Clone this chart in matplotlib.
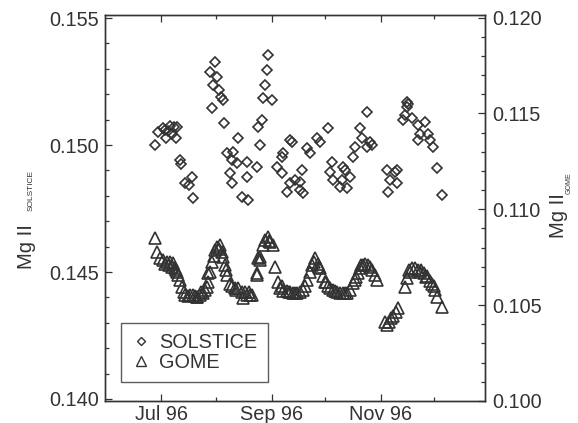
"""
Mg II core-to-wing index, SOLSTICE vs GOME, Jun-Dec 1996.
Diamonds on the left axis, triangles on the right axis.
"""

import matplotlib
matplotlib.use("Agg")
import matplotlib.pyplot as plt
from matplotlib.lines import Line2D

plt.rcParams['font.family'] = ['Liberation Sans', 'DejaVu Sans']

INK = '#333333'

# day of year 1996
solstice_day = [
    179.6, 181.3, 184.1, 188.0, 192.0, 185.8, 191.4, 187.0, 185.0, 189.0, 190.0,
    193.6, 194.2, 196.4, 198.7, 200.4, 200.9,
    213.2, 210.4, 214.4, 212.1, 215.5, 216.5, 217.7, 211.6, 218.5,
    226.1, 220.0, 223.3, 222.8, 225.6, 231.2, 236.8, 221.6, 231.2, 222.8, 228.4, 231.7,
    242.9, 242.4, 241.2, 240.1, 245.2, 239.6, 237.3, 238.4,
    255.2, 256.4, 251.3, 250.8, 248.0, 250.8, 255.2, 258.0, 253.6, 260.8,
    264.8, 266.4, 270.4, 272.0, 276.5, 262.0, 260.8, 262.5,
    278.8, 277.6, 279.3, 284.9, 286.0, 284.4, 287.2, 283.2, 288.8,
    294.4, 295.6, 298.4, 301.2, 291.6, 290.5, 298.4, 300.0,
    309.6, 314.0, 311.2, 310.1, 315.2, 315.2,
    320.8, 320.8, 321.5, 319.5, 318.5, 323.6, 326.9, 330.8, 328.0, 332.5, 326.9,
    333.6, 335.3, 337.6, 340.4,
]
solstice_val = [
    0.15000, 0.15051, 0.15067, 0.15075, 0.15071, 0.15028, 0.15028, 0.15055, 0.15060, 0.15045, 0.15070,
    0.14941, 0.14925, 0.14850, 0.14842, 0.14874, 0.14791,
    0.15327, 0.15288, 0.15268, 0.15236, 0.15217, 0.15189, 0.15177, 0.15146, 0.15087,
    0.15028, 0.14968, 0.14972, 0.14941, 0.14929, 0.14933, 0.14913, 0.14890, 0.14874, 0.14850, 0.14795, 0.14783,
    0.15355, 0.15296, 0.15236, 0.15185, 0.15177, 0.15099, 0.15071, 0.15000,
    0.15020, 0.15012, 0.14968, 0.14953, 0.14913, 0.14890, 0.14850, 0.14862, 0.14815, 0.14823,
    0.14988, 0.14968, 0.15028, 0.15012, 0.15067, 0.14902, 0.14854, 0.14811,
    0.14933, 0.14894, 0.14862, 0.14913, 0.14902, 0.14862, 0.14831, 0.14835, 0.14874,
    0.15067, 0.15028, 0.14992, 0.15000, 0.14992, 0.14953, 0.15130, 0.15012,
    0.14902, 0.14894, 0.14862, 0.14815, 0.14902, 0.14850,
    0.15169, 0.15150, 0.15160, 0.15120, 0.15099, 0.15106, 0.15079, 0.15091, 0.15043, 0.15043, 0.15020,
    0.15020, 0.14992, 0.14909, 0.14803,
]

gome_day = [
    179.6, 180.8, 182.4, 184.1, 186.4, 188.0, 189.7, 190.8, 192.0, 193.6, 194.8,
    196.4, 198.1, 199.2, 200.9, 203.2, 204.8, 206.5, 207.6, 208.8, 209.3, 210.4,
    211.6, 213.2, 214.4, 216.0, 217.2, 217.7, 218.8, 220.0, 221.6, 222.8, 224.4,
    226.1, 228.4, 230.0, 231.2, 232.8, 234.0,
    236.8, 237.3, 238.4, 240.1, 241.2, 242.9, 244.0, 245.7, 246.8, 248.5, 249.6,
    251.3, 253.6, 255.2, 256.9, 259.2, 260.8, 262.5, 263.6, 264.8, 266.4, 267.6,
    269.2, 270.9, 272.0, 273.7, 274.8, 276.5, 277.6, 279.3, 281.6, 283.2, 284.9,
    287.2, 288.8, 290.5, 291.6, 293.3, 294.4, 296.1, 297.2, 298.9, 301.2, 302.8, 304.0,
    308.4, 309.6, 310.7, 311.8, 312.9, 314.6, 315.7,
    319.6, 320.8, 321.9, 323.6, 325.2, 326.9, 328.6, 330.3, 332.0, 333.6, 334.8,
    336.4, 337.6, 340.4,
    189.2, 192.5, 203.2, 228.9, 209.3, 232.0, 236.8, 238.4,
    185.0, 187.2, 191.5, 195.6, 201.8, 205.5, 212.4, 215.2, 219.5, 225.2,
    243.5, 250.5, 254.4, 258.0, 268.4, 271.5, 275.6, 280.5, 286.0, 292.4,
    295.2, 299.8, 322.6, 327.8, 331.2, 335.6,
]
gome_val = [
    0.10850, 0.10777, 0.10745, 0.10735, 0.10724, 0.10724, 0.10719, 0.10693, 0.10672, 0.10631, 0.10594,
    0.10552, 0.10547, 0.10552, 0.10552, 0.10542, 0.10552, 0.10563, 0.10578, 0.10594, 0.10620, 0.10672,
    0.10724, 0.10787, 0.10803, 0.10813, 0.10777, 0.10751, 0.10709, 0.10657, 0.10610, 0.10599, 0.10589,
    0.10589, 0.10568, 0.10568, 0.10552, 0.10552, 0.10552,
    0.10667, 0.10745, 0.10751, 0.10813, 0.10839, 0.10855, 0.10829, 0.10813, 0.10698, 0.10620, 0.10589,
    0.10573, 0.10573, 0.10568, 0.10563, 0.10563, 0.10568, 0.10578, 0.10599, 0.10631, 0.10672, 0.10709,
    0.10745, 0.10714, 0.10693, 0.10651, 0.10620, 0.10599, 0.10589, 0.10578, 0.10568, 0.10563, 0.10563,
    0.10563, 0.10578, 0.10615, 0.10631, 0.10667, 0.10693, 0.10709, 0.10714, 0.10709, 0.10683, 0.10657, 0.10631,
    0.10411, 0.10396, 0.10411, 0.10432, 0.10443, 0.10463, 0.10484,
    0.10594, 0.10641, 0.10683, 0.10693, 0.10693, 0.10683, 0.10683, 0.10667, 0.10651, 0.10625, 0.10610,
    0.10578, 0.10542, 0.10490,
    0.10698, 0.10657, 0.10542, 0.10537, 0.10667, 0.10568, 0.10657, 0.10735,
    0.10714, 0.10709, 0.10683, 0.10568, 0.10547, 0.10568, 0.10755, 0.10792, 0.10683, 0.10578,
    0.10834, 0.10599, 0.10568, 0.10563, 0.10724, 0.10698, 0.10620, 0.10573, 0.10563, 0.10646,
    0.10709, 0.10698, 0.10672, 0.10672, 0.10646, 0.10599,
]

month_major = [183, 245, 306]
month_labels = ['Jul 96', 'Sep 96', 'Nov 96']
month_minor = [214, 275, 336]

left_ticks = [0.140, 0.145, 0.150, 0.155]
right_ticks = [0.100, 0.105, 0.110, 0.115, 0.120]

fig = plt.figure(figsize=(5.78, 4.23), dpi=100)
ax = fig.add_axes([0.1817, 0.0520, 0.6574, 0.9125])
ax2 = ax.twinx()

ax.plot(solstice_day, solstice_val, linestyle='none', marker='D', markersize=5.6,
        markerfacecolor='none', markeredgecolor=INK, markeredgewidth=1.2)
ax2.plot(gome_day, gome_val, linestyle='none', marker='^', markersize=8,
         markerfacecolor='none', markeredgecolor=INK, markeredgewidth=1.2)

ax.set_xlim(151.6, 364.4)
ax.set_ylim(0.13992, 0.15512)
ax2.set_ylim(0.09999, 0.12014)

ax.set_xticks(month_major)
ax.set_xticklabels(month_labels)
ax.set_xticks(month_minor, minor=True)
ax.set_yticks(left_ticks)
ax.set_yticklabels(['%.3f' % v for v in left_ticks])
ax.set_yticks([0.140 + 0.001 * i for i in range(16)], minor=True)
ax2.set_yticks(right_ticks)
ax2.set_yticklabels(['%.3f' % v for v in right_ticks])
ax2.set_yticks([0.100 + 0.001 * i for i in range(21)], minor=True)

ax.tick_params(axis='x', which='both', direction='in', top=True, bottom=True,
               labelsize=14.3, colors=INK, pad=3)
ax.tick_params(axis='y', which='both', direction='in', left=True, right=False,
               labelsize=14.3, colors=INK, pad=4.3)
ax2.tick_params(axis='y', which='both', direction='in', left=False, right=True,
                labelsize=14.3, colors=INK, pad=5.5)
for a in (ax, ax2):
    a.tick_params(which='major', length=5, width=0.9)
    a.tick_params(which='minor', length=3, width=0.9)
    for s in a.spines.values():
        s.set_color(INK)
        s.set_linewidth(1.0)

# y labels with tiny subscripts
fig.text(0.045, 0.416, 'Mg II', rotation=90, ha='center', va='center',
         fontsize=14.5, color=INK)
fig.text(0.0536, 0.550, 'SOLSTICE', rotation=90, ha='center', va='center',
         fontsize=6, color=INK)
fig.text(0.9654, 0.4894, 'Mg II', rotation=90, ha='center', va='center',
         fontsize=14.5, color=INK)
fig.text(0.9844, 0.5674, 'GOME', rotation=90, ha='center', va='center',
         fontsize=5, color=INK)

handles = [
    Line2D([], [], linestyle='none', marker='D', markersize=4.4,
           markerfacecolor='none', markeredgecolor=INK, markeredgewidth=1.0),
    Line2D([], [], linestyle='none', marker='^', markersize=6.5,
           markerfacecolor='none', markeredgecolor=INK, markeredgewidth=1.0),
]
leg = ax2.legend(handles, ['SOLSTICE', 'GOME'], loc='lower left',
                 bbox_to_anchor=(0.0413, 0.05), borderaxespad=0,
                 fontsize=14.3, frameon=True, fancybox=False, labelspacing=0.05,
                 handlelength=1.0, handletextpad=0.45, borderpad=0.5)
leg.get_frame().set_edgecolor(INK)
leg.get_frame().set_linewidth(1.0)
for t in leg.get_texts():
    t.set_color(INK)

fig.savefig('out.png', dpi=100)
